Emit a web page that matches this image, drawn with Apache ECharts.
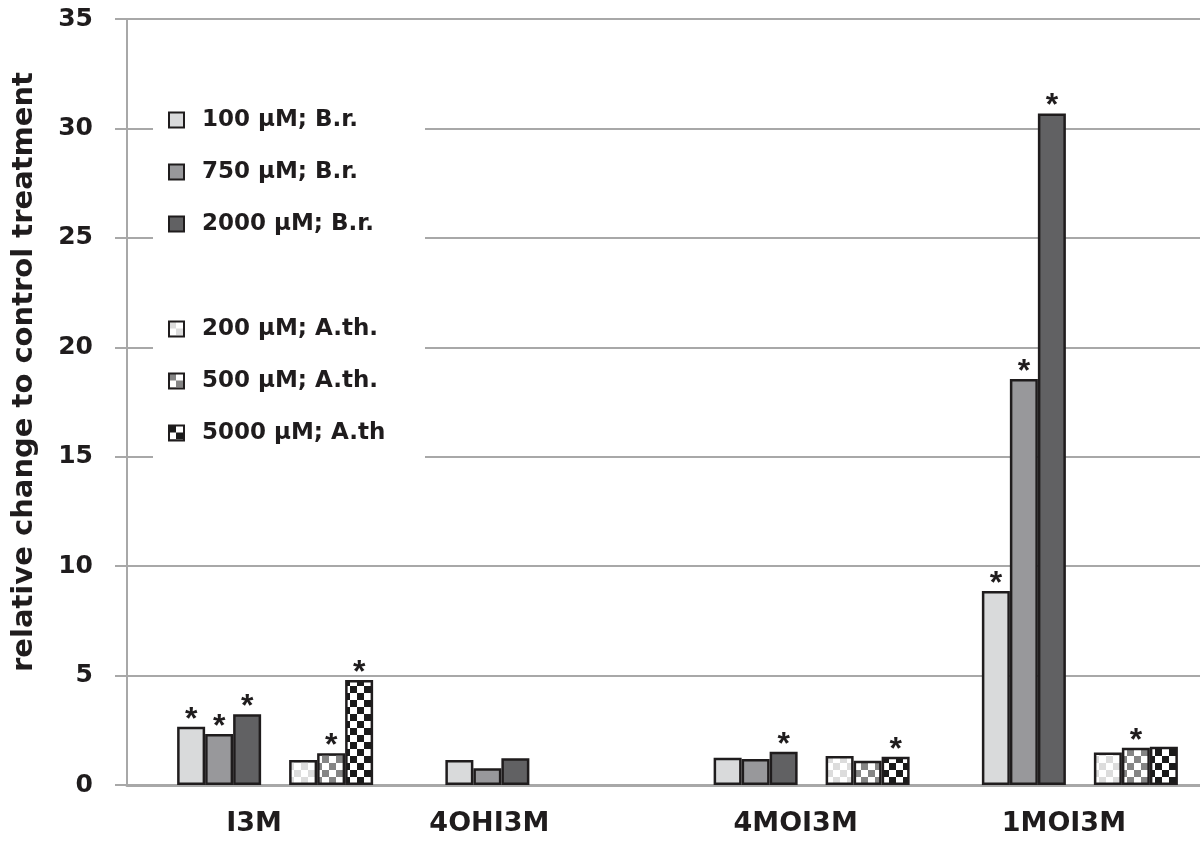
<!DOCTYPE html>
<html>
<head>
<meta charset="utf-8">
<script src="https://cdn.jsdelivr.net/npm/echarts@6/dist/echarts.min.js"></script>
<style>
  html, body { margin: 0; padding: 0; background: #fff; }
  #chart { width: 1200px; height: 844px; }
</style>
</head>
<body>
<div id="chart"></div>
<script>
// categories and values
const categories = ['I3M', '4OHI3M', '4MOI3M', '1MOI3M'];
const yTicks = [0, 5, 10, 15, 20, 25, 30, 35];

const br100 = [2.66, 1.14, 1.25, 8.86];
const br750 = [2.33, 0.76, 1.19, 18.55];
const br2000 = [3.23, 1.22, 1.52, 30.68];
const ath200 = [1.14, null, 1.32, 1.48];
const ath500 = [1.45, null, 1.11, 1.70];
const ath5000 = [4.80, null, 1.29, 1.75];

// significance markers (asterisks)
const sig100 = [1, 0, 0, 1];
const sig750 = [1, 0, 0, 1];
const sig2000 = [1, 0, 1, 1];
const sig200 = [0, 0, 0, 0];
const sig500 = [1, 0, 0, 1];
const sig5000 = [1, 0, 1, 0];

const FONT = 'DejaVu Sans';
const INK = '#1f1c1d';
const GRID = '#a8a8a8';

function checker(fg, size) {
    const c = document.createElement('canvas');
    c.width = c.height = size * 2;
    const ctx = c.getContext('2d');
    ctx.fillStyle = '#fff';
    ctx.fillRect(0, 0, size * 2, size * 2);
    ctx.fillStyle = fg;
    ctx.fillRect(0, 0, size, size);
    ctx.fillRect(size, size, size, size);
    return c;
}

function barSeries(name, values, sigs, color) {
    return {
        name: name,
        type: 'bar',
        barWidth: 28,
        barGap: '0%',
        data: values.map(v => (v == null ? '-' : v)),
        itemStyle: { color: color, borderColor: INK, borderWidth: 2.5 },
        label: {
            show: true,
            position: 'top',
            distance: -9,
            fontFamily: 'Liberation Sans',
            fontWeight: 'bold',
            fontSize: 32,
            color: INK,
            formatter: p => (sigs[p.dataIndex] ? '*' : '')
        },
        emphasis: { disabled: true }
    };
}

// empty series only used to reserve a bar slot
function spacer() {
    return { name: 'spacer', type: 'bar', barWidth: 28, barGap: '0%', data: categories.map(() => '-') };
}

const labelPad = [14, 80, 4, 4];
const rich = {};
labelPad.forEach((p, i) => {
    rich['p' + i] = { fontFamily: FONT, fontWeight: 'bold', fontSize: 27, color: INK, padding: [0, p, 0, 0] };
});

const legendText = { fontFamily: FONT, fontWeight: 'bold', fontSize: 23, color: INK, lineHeight: 26, padding: [0, 0, 0, 13] };

const chart = echarts.init(document.getElementById('chart'));
chart.setOption({
    animation: false,
    backgroundColor: '#fff',
    grid: { left: 127, right: 0, top: 19, bottom: 59 },
    graphic: [{
        type: 'rect', left: 153, top: 97, z: 1,
        shape: { width: 272, height: 370 },
        style: { fill: '#fff' }
    }],
    legend: [{
        orient: 'vertical', left: 153, top: 97, padding: [10, 0, 0, 15],
        icon: 'rect', itemWidth: 15, itemHeight: 15, itemGap: 26,
        data: ['100 µM; B.r.', '750 µM; B.r.', '2000 µM; B.r.'],
        textStyle: legendText, selectedMode: false
    }, {
        orient: 'vertical', left: 153, top: 306, padding: [10, 0, 0, 15],
        icon: 'rect', itemWidth: 15, itemHeight: 15, itemGap: 26,
        data: ['200 µM; A.th.', '500 µM; A.th.', '5000 µM; A.th'],
        textStyle: legendText, selectedMode: false
    }],
    xAxis: {
        type: 'category',
        data: categories,
        axisLine: { lineStyle: { color: GRID, width: 3 } },
        axisTick: { show: false },
        axisLabel: {
            margin: 25,
            formatter: (v, i) => '{p' + i + '|' + v + '}',
            rich: rich
        }
    },
    yAxis: {
        type: 'value',
        min: yTicks[0],
        max: yTicks[yTicks.length - 1],
        interval: 5,
        name: 'relative change to control treatment',
        nameLocation: 'middle',
        nameGap: 88,
        nameTextStyle: { fontFamily: FONT, fontWeight: 'bold', fontSize: 29, color: INK, padding: [0, 0, 0, 60] },
        axisLine: { show: true, lineStyle: { color: GRID, width: 2 } },
        axisTick: { show: true, length: 12, lineStyle: { color: GRID, width: 2 } },
        splitLine: { lineStyle: { color: GRID, width: 2 } },
        axisLabel: { margin: 34, fontFamily: FONT, fontWeight: 'bold', fontSize: 25, color: INK }
    },
    series: [
        spacer(),
        barSeries('100 µM; B.r.', br100, sig100, '#d9dadb'),
        barSeries('750 µM; B.r.', br750, sig750, '#98989b'),
        barSeries('2000 µM; B.r.', br2000, sig2000, '#616163'),
        spacer(),
        barSeries('200 µM; A.th.', ath200, sig200, { image: checker('#dcdcdc', 7), repeat: 'repeat' }),
        barSeries('500 µM; A.th.', ath500, sig500, { image: checker('#858585', 7), repeat: 'repeat' }),
        barSeries('5000 µM; A.th', ath5000, sig5000, { image: checker('#1a1a1a', 7), repeat: 'repeat' })
    ]
});
</script>
</body>
</html>
